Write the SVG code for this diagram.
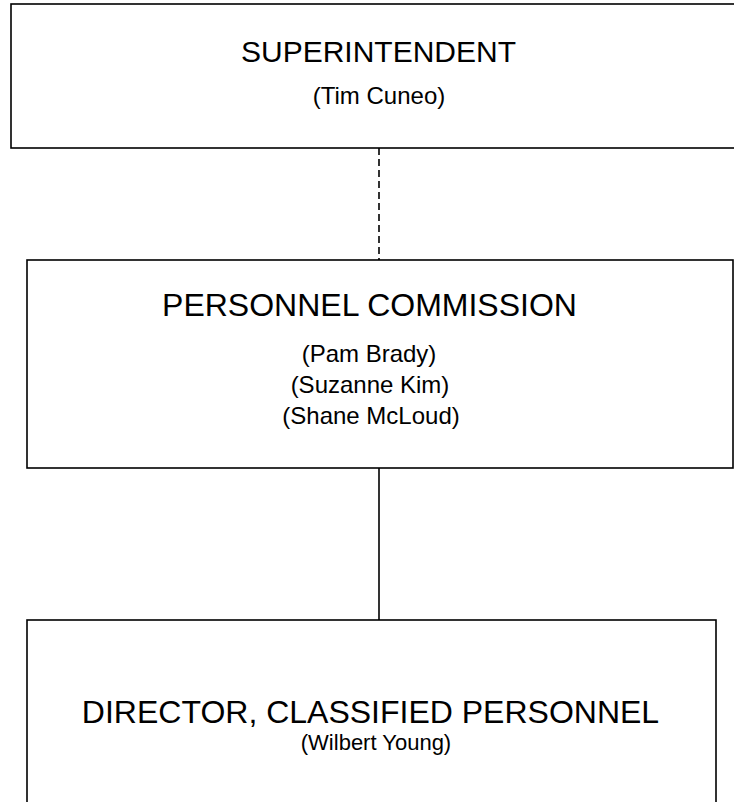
<svg xmlns="http://www.w3.org/2000/svg" width="734" height="802" viewBox="0 0 734 802">
<style>
.box{fill:#fff;stroke:#000;stroke-width:1.6}
.h{font-family:"Liberation Sans",Arial,sans-serif;font-size:32px;fill:#000;text-anchor:middle}
.n{font-family:"Liberation Sans",Arial,sans-serif;font-size:24px;fill:#000;text-anchor:middle}
.c{stroke:#000;stroke-width:1.6;fill:none}
</style>
<rect width="734" height="802" fill="#fff"/>
<g id="connectors">
<line class="c" x1="379" y1="148" x2="379" y2="260" stroke-dasharray="7,4"/>
<line class="c" x1="379" y1="468" x2="379" y2="620"/>
</g>
<g id="superintendent">
<rect class="box" x="11" y="4" width="740" height="144"/>
<text class="h" x="378.5" y="62" style="font-size:30px">SUPERINTENDENT</text>
<text class="n" x="379" y="104">(Tim Cuneo)</text>
</g>
<g id="personnel-commission">
<rect class="box" x="27" y="260" width="706" height="208"/>
<text class="h" x="369.5" y="316">PERSONNEL COMMISSION</text>
<text class="n" x="369" y="362">(Pam Brady)</text>
<text class="n" x="370" y="393">(Suzanne Kim)</text>
<text class="n" x="371" y="424">(Shane McLoud)</text>
</g>
<g id="director">
<rect class="box" x="27" y="620" width="689" height="200"/>
<text class="h" x="370.5" y="723">DIRECTOR, CLASSIFIED PERSONNEL</text>
<text class="n" x="376" y="750" style="font-size:22px">(Wilbert Young)</text>
</g>
</svg>
